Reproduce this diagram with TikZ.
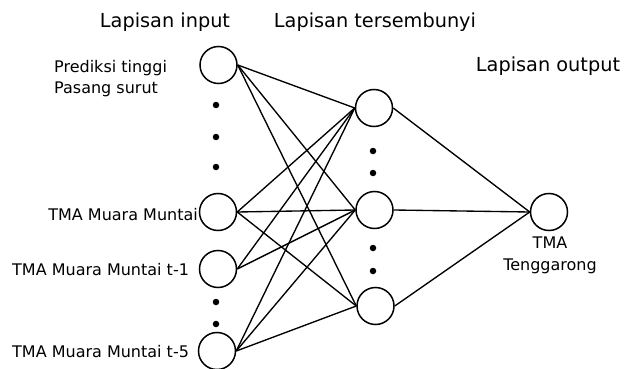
\documentclass[tikz,border=0pt]{standalone}
\usepackage{fontspec}
\setmainfont{DejaVu Sans}
\begin{document}
\begin{tikzpicture}[x=1pt,y=-1pt,
  neuron/.style={circle,draw,line width=1.5pt,minimum size=37pt,inner sep=0pt},
  conn/.style={line width=1.35pt},
  dotmark/.style={circle,fill,inner sep=0pt,minimum size=6.5pt},
  title/.style={font=\fontsize{19.3}{23}\selectfont,inner sep=0pt},
  lbl/.style={font=\fontsize{16}{21}\selectfont,inner sep=0pt}]
\useasboundingbox (0,0) rectangle (624,369);
% input layer
\node[neuron] (i1) at (218.5,65) {};
\node[neuron] (i2) at (218,212) {};
\node[neuron] (i3) at (218,269) {};
\node[neuron] (i4) at (217,351) {};
% hidden layer
\node[neuron] (h1) at (374,108) {};
\node[neuron] (h2) at (374.5,210) {};
\node[neuron] (h3) at (375.5,306) {};
% output
\node[neuron] (o) at (549,212) {};
% dots
\foreach \y/\n in {105/a,137/b,167/c,302/d,324/e}
  \node[dotmark] (d\n) at (216,\y) {};
\foreach \y/\n in {151/a,173/b,248/c,271/d}
  \node[dotmark] (e\n) at (373,\y) {};
% connections
\foreach \a in {i1,i2,i4}
  \foreach \b in {h1,h2,h3}
    \draw[conn] (\a.east) -- (\b.west);
\draw[conn] (i3.east) -- (h1.west);
\draw[conn] (i3.east) -- (h2.west);
\foreach \b in {h1,h2,h3}
  \draw[conn] (\b.east) -- (o.west);
% titles
\node[title,anchor=base] (t1) at (165,28) {Lapisan input};
\node[title,anchor=base] (t2) at (375,28) {Lapisan tersembunyi};
\node[title,anchor=base] (t3) at (548,72) {Lapisan output};
% labels
\node[lbl,anchor=base west] (l1) at (54,73) {Prediksi tinggi};
\node[lbl,anchor=base west] (l1b) at (54,94) {Pasang surut};
\node[lbl,anchor=base east] (l2) at (198,220) {TMA Muara Muntai};
\node[lbl,anchor=base west] (l3) at (12,275) {TMA Muara Muntai t-1};
\node[lbl,anchor=base west] (l4) at (12,357) {TMA Muara Muntai t-5};
\node[lbl,anchor=base] (lo1) at (550,248) {TMA};
\node[lbl,anchor=base] (lo2) at (550,270) {Tenggarong};
\end{tikzpicture}
\end{document}
